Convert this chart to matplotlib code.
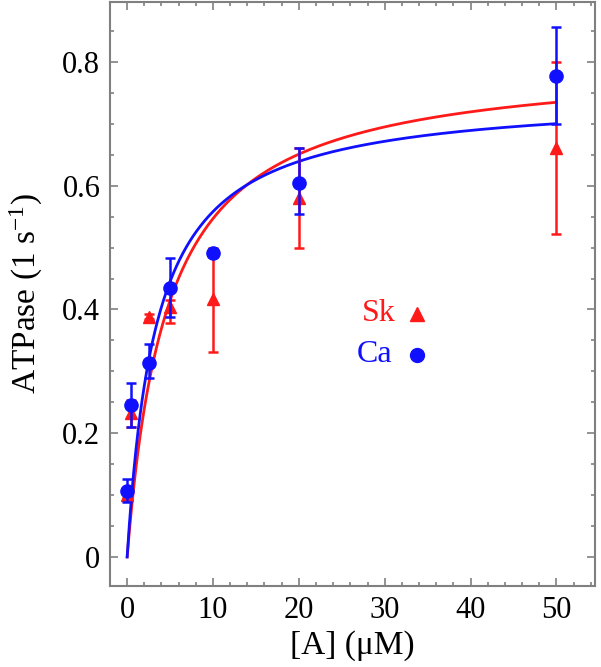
import numpy as np
import matplotlib
matplotlib.use("Agg")
import matplotlib.pyplot as plt
from matplotlib.ticker import MultipleLocator

plt.rcParams['font.family'] = ['Liberation Serif', 'DejaVu Serif']
plt.rcParams['mathtext.fontset'] = 'custom'
plt.rcParams['mathtext.rm'] = 'Liberation Serif'
plt.rcParams['mathtext.default'] = 'regular'

# Data
conc = [0, 0.5, 2.5, 5, 10, 20, 50]
sk_vals = [0.10, 0.232, 0.388, 0.404, 0.417, 0.580, 0.661]
sk_lo = [0.095, 0.210, 0.384, 0.378, 0.331, 0.500, 0.522]
sk_hi = [0.105, 0.254, 0.392, 0.415, 0.500, 0.661, 0.800]
ca_vals = [0.107, 0.246, 0.314, 0.435, 0.491, 0.604, 0.777]
ca_lo = [0.089, 0.210, 0.289, 0.388, 0.485, 0.554, 0.700]
ca_hi = [0.126, 0.281, 0.344, 0.483, 0.497, 0.661, 0.857]

# Hyperbolic fit parameters (Vmax, K)
sk_fit = (0.804, 4.7)
ca_fit = (0.748, 3.4)

red = '#ff1a1a'
blue = '#1010ff'

fig = plt.figure(figsize=(6.01, 6.67), dpi=100)
ax = fig.add_axes([0.183, 0.1214, 0.807, 0.8756])

xf = np.linspace(0, 50, 400)
for (vm, k), c in [(sk_fit, red), (ca_fit, blue)]:
    ax.plot(xf, vm * xf / (k + xf), color=c, lw=2, zorder=2)

def errs(v, lo, hi):
    v = np.array(v); return [v - np.array(lo), np.array(hi) - v]

ax.errorbar(conc, sk_vals, yerr=errs(sk_vals, sk_lo, sk_hi), fmt='^', color=red,
            ms=9, capsize=3.5, elinewidth=1.8, capthick=1.8, zorder=3)
ax.errorbar(conc, ca_vals, yerr=errs(ca_vals, ca_lo, ca_hi), fmt='o', color=blue,
            ms=9.5, capsize=3.5, elinewidth=1.8, capthick=1.8, zorder=4)

ax.set_xlim(-2, 54.5)
ax.set_ylim(-0.047, 0.897)
ax.xaxis.set_major_locator(MultipleLocator(10))
ax.xaxis.set_minor_locator(MultipleLocator(2))
ax.yaxis.set_minor_locator(MultipleLocator(0.05))
ax.set_yticks([0, 0.2, 0.4, 0.6, 0.8])
ax.set_yticklabels(['0', '0.2', '0.4', '0.6', '0.8'])
ax.tick_params(which='both', direction='in', top=True, right=True, color='#808080', width=1.2)
ax.tick_params(which='major', length=6, labelsize=22, pad=7)
ax.tick_params(which='minor', length=3)
for s in ax.spines.values():
    s.set_color('#808080')
    s.set_linewidth(1.5)

ax.set_xlabel('[A] (μM)', fontsize=24, labelpad=4)
ax.set_ylabel('ATPase (1 s$^{-1}$)', fontsize=24)
ax.yaxis.set_label_coords(-0.135, 0.5)

ax.text(0.519, 0.467, 'Sk', color=red, fontsize=23, transform=ax.transAxes, ha='left', va='center')
ax.plot([0.632], [0.465], marker='^', color=red, ms=10, transform=ax.transAxes)
ax.text(0.508, 0.397, 'Ca', color=blue, fontsize=23, transform=ax.transAxes, ha='left', va='center')
ax.plot([0.632], [0.395], marker='o', color=blue, ms=10, transform=ax.transAxes)

fig.savefig('out.png', dpi=100)
